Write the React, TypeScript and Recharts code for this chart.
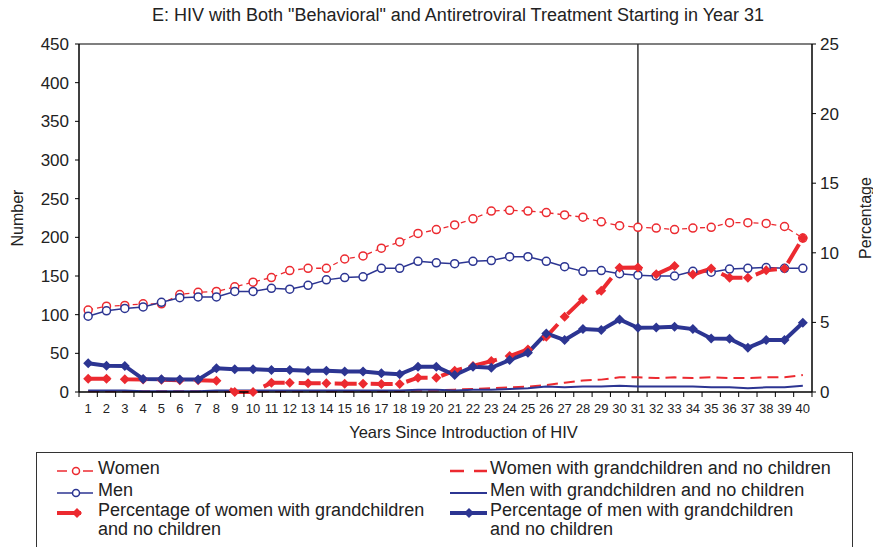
import React from 'react';
import { LineChart, Line, XAxis, YAxis, ReferenceLine } from 'recharts';

const years = [
  1, 2, 3, 4, 5, 6, 7, 8, 9, 10, 11, 12, 13, 14, 15, 16, 17, 18, 19, 20,
  21, 22, 23, 24, 25, 26, 27, 28, 29, 30, 31, 32, 33, 34, 35, 36, 37, 38, 39, 40
];
const women = [
  106, 111, 112, 114, 114, 126, 129, 130, 136, 142, 148, 157, 160, 160, 172, 176, 186, 194, 205, 210,
  216, 224, 234, 235, 234, 232, 229, 226, 220, 215, 213, 212, 210, 212, 213, 219, 219, 218, 214, 199
];
const men = [
  98, 105, 108, 110, 116, 122, 123, 123, 130, 130, 134, 133, 138, 145, 148, 149, 160, 160, 169, 167,
  166, 169, 170, 175, 175, 169, 162, 156, 157, 153, 151, 150, 150, 156, 155, 159, 160, 161, 160, 160
];
const womenGc = [
  1, 1, 1, 1, 1, 1, 1, 1, 0, 0, 1, 1, 1, 1, 1, 1, 1, 1, 2, 2,
  3, 4, 5, 6, 7, 9, 12, 15, 16, 19, 19, 18, 19, 18, 19, 18, 18, 19, 19, 22
];
const menGc = [
  2, 2, 2, 1, 1, 1, 1, 2, 2, 2, 2, 2, 2, 2, 2, 2, 2, 2, 3, 3,
  2, 3, 3, 4, 5, 7, 6, 7, 7, 8, 7, 7, 7, 7, 6, 6, 5, 6, 6, 8
];
const womenPct = [
  0.96, 0.96, 0.91, 0.9, 0.88, 0.85, 0.85, 0.81, 0, 0, 0.67, 0.67, 0.62, 0.62, 0.6, 0.6, 0.57, 0.57, 1.03, 1.03,
  1.53, 1.87, 2.22, 2.58, 3.06, 3.97, 5.4, 6.67, 7.27, 8.92, 8.94, 8.46, 9.06, 8.44, 8.87, 8.2, 8.2, 8.75, 8.87, 11.07
];
const menPct = [
  2.06, 1.89, 1.87, 0.93, 0.91, 0.89, 0.89, 1.7, 1.63, 1.63, 1.58, 1.58, 1.53, 1.53, 1.48, 1.47, 1.34, 1.27, 1.82, 1.82,
  1.22, 1.82, 1.74, 2.3, 2.82, 4.21, 3.73, 4.52, 4.45, 5.21, 4.61, 4.63, 4.68, 4.52, 3.85, 3.83, 3.18, 3.73, 3.73, 4.97
];
const leftTicks = [0, 50, 100, 150, 200, 250, 300, 350, 400, 450];
const rightTicks = [0, 5, 10, 15, 20, 25];
const treatmentYear = 31;

const data = years.map((year, i) => ({
  year,
  women: women[i],
  men: men[i],
  womenGc: womenGc[i],
  menGc: menGc[i],
  womenPct: womenPct[i],
  menPct: menPct[i]
}));

const RED = '#ec2a30';
const BLUE = '#2c3592';
const TEXT = '#222';
const FONT = '"Liberation Sans", Arial, sans-serif';
const HALF_BAND = 9.16;

const diamond = (color: string, size: number) => (props: any) => {
  const { cx, cy, index } = props;
  if (cx == null || cy == null) return <g key={index} />;
  return (
    <path
      key={index}
      d={`M${cx},${cy - size}L${cx + size},${cy}L${cx},${cy + size}L${cx - size},${cy}Z`}
      fill={color}
    />
  );
};

const XTick = (props: any) => {
  const { x, y, payload } = props;
  return (
    <g>
      <line x1={x - HALF_BAND} x2={x - HALF_BAND} y1={y} y2={y + 5} stroke="#000" />
      {payload.value === 40 && (
        <line x1={x + HALF_BAND} x2={x + HALF_BAND} y1={y} y2={y + 5} stroke="#000" />
      )}
      <text x={x} y={y + 21} textAnchor="middle" fontSize={13} fill={TEXT} fontFamily={FONT}>
        {payload.value}
      </text>
    </g>
  );
};

const Sample = ({ kind }: { kind: string }) => {
  const w = 37;
  if (kind === 'women')
    return (
      <svg width={w} height={12}>
        <line x1={0} x2={10} y1={6} y2={6} stroke={RED} strokeWidth={1.5} />
        <circle cx={19} cy={6} r={3.5} fill="#fff" stroke={RED} strokeWidth={1.5} />
        <line x1={26} x2={36} y1={6} y2={6} stroke={RED} strokeWidth={1.5} />
      </svg>
    );
  if (kind === 'men')
    return (
      <svg width={w} height={12}>
        <line x1={0} x2={36} y1={6} y2={6} stroke={BLUE} strokeWidth={1.5} />
        <circle cx={19} cy={6} r={3.5} fill="#fff" stroke={BLUE} strokeWidth={1.5} />
      </svg>
    );
  if (kind === 'womenPct')
    return (
      <svg width={w} height={12}>
        <line x1={0} x2={24} y1={6} y2={6} stroke={RED} strokeWidth={4} />
        <path d="M20,1L25,6L20,11L15,6Z" fill={RED} />
      </svg>
    );
  if (kind === 'womenGc')
    return (
      <svg width={w} height={12}>
        <line x1={0} x2={37} y1={6} y2={6} stroke={RED} strokeWidth={2.5} strokeDasharray="14 10" />
      </svg>
    );
  if (kind === 'menGc')
    return (
      <svg width={w} height={12}>
        <line x1={0} x2={37} y1={6} y2={6} stroke={BLUE} strokeWidth={2} />
      </svg>
    );
  return (
    <svg width={w} height={12}>
      <line x1={0} x2={37} y1={6} y2={6} stroke={BLUE} strokeWidth={4} />
      <path d="M19,1L24,6L19,11L14,6Z" fill={BLUE} />
    </svg>
  );
};

const legendItems = [
  { kind: 'women', label: 'Women', col: 0, cy: 469 },
  { kind: 'men', label: 'Men', col: 0, cy: 491 },
  { kind: 'womenPct', label: 'Percentage of women with grandchildren\nand no children', col: 0, cy: 511 },
  { kind: 'womenGc', label: 'Women with grandchildren and no children', col: 1, cy: 469 },
  { kind: 'menGc', label: 'Men with grandchildren and no children', col: 1, cy: 491 },
  { kind: 'menPct', label: 'Percentage of men with grandchildren\nand no children', col: 1, cy: 511 }
];

const ChartLegend = () => (
  <>
    <div
      style={{
        position: 'absolute',
        left: 36,
        top: 452,
        width: 815,
        height: 120,
        border: '1.5px solid #333',
        borderBottom: 'none'
      }}
    />
    {legendItems.map((item) => {
      const sx = item.col === 0 ? 57 : 450;
      const tx = item.col === 0 ? 98 : 490;
      return (
        <React.Fragment key={item.kind}>
          <div style={{ position: 'absolute', left: sx, top: item.cy - 6, height: 12 }}>
            <Sample kind={item.kind} />
          </div>
          <div
            style={{
              position: 'absolute',
              left: tx,
              top: item.cy - 10.5,
              fontSize: 18,
              lineHeight: '19.5px',
              color: TEXT,
              whiteSpace: 'pre'
            }}
          >
            {item.label}
          </div>
        </React.Fragment>
      );
    })}
  </>
);

const App: React.FC = () => (
  <div
    style={{
      position: 'absolute',
      left: 0,
      top: 0,
      width: 873,
      height: 547,
      overflow: 'hidden',
      background: '#fff',
      fontFamily: FONT
    }}
  >
    <div
      style={{
        position: 'absolute',
        left: 58,
        top: 5,
        width: 800,
        textAlign: 'center',
        fontSize: 18,
        color: TEXT
      }}
    >
      E: HIV with Both "Behavioral" and Antiretroviral Treatment Starting in Year 31
    </div>
    <LineChart
      width={873}
      height={547}
      data={data}
      margin={{ top: 44, right: 0, left: 19, bottom: 109 }}
      style={{ fontFamily: FONT }}
    >
      <XAxis
        dataKey="year"
        type="number"
        domain={[0.5, 40.5]}
        ticks={years}
        interval={0}
        height={46}
        tickSize={0}
        tickMargin={0}
        tick={<XTick />}
        axisLine={{ stroke: '#000', strokeWidth: 1.5 }}
        label={{
          value: 'Years Since Introduction of HIV',
          position: 'insideBottom',
          offset: 0,
          dx: 18,
          fontSize: 16.5,
          fill: TEXT
        }}
      />
      <YAxis
        yAxisId="left"
        domain={[0, 450]}
        ticks={leftTicks}
        interval={0}
        width={60}
        tickSize={4}
        tickMargin={6}
        tick={{ fontSize: 17, fill: TEXT }}
        axisLine={{ stroke: '#000', strokeWidth: 1.5 }}
        tickLine={{ stroke: '#000' }}
        label={{
          value: 'Number',
          angle: -90,
          position: 'insideLeft',
          offset: -2,
          fontSize: 16,
          fill: TEXT,
          style: { textAnchor: 'middle' }
        }}
      />
      <YAxis
        yAxisId="right"
        orientation="right"
        domain={[0, 25]}
        ticks={rightTicks}
        interval={0}
        width={61}
        tickSize={4}
        tickMargin={4}
        tick={{ fontSize: 17, fill: TEXT }}
        axisLine={{ stroke: '#000', strokeWidth: 1.5 }}
        tickLine={{ stroke: '#000' }}
        label={{
          value: 'Percentage',
          angle: -90,
          position: 'insideRight',
          offset: 8,
          fontSize: 16,
          fill: TEXT,
          style: { textAnchor: 'middle' }
        }}
      />
      <ReferenceLine yAxisId="left" y={450} stroke="#555" strokeWidth={1.5} />
      <ReferenceLine yAxisId="left" x={treatmentYear} stroke="#333" strokeWidth={1.5} />

      <Line
        yAxisId="left"
        dataKey="womenGc"
        stroke={RED}
        strokeWidth={2}
        strokeDasharray="11 6"
        dot={false}
        isAnimationActive={false}
      />
      <Line
        yAxisId="left"
        dataKey="menGc"
        stroke={BLUE}
        strokeWidth={2}
        dot={false}
        isAnimationActive={false}
      />
      <Line
        yAxisId="left"
        dataKey="women"
        stroke={RED}
        strokeWidth={1.3}
        strokeDasharray="5 4"
        dot={{ r: 4, fill: '#fff', stroke: RED, strokeWidth: 1.5, strokeDasharray: 'none' }}
        isAnimationActive={false}
      />
      <Line
        yAxisId="left"
        dataKey="men"
        stroke={BLUE}
        strokeWidth={1.5}
        dot={{ r: 4, fill: '#fff', stroke: BLUE, strokeWidth: 1.5 }}
        isAnimationActive={false}
      />
      <Line
        yAxisId="right"
        dataKey="womenPct"
        stroke={RED}
        strokeWidth={4}
        strokeDasharray="22 14"
        dot={diamond(RED, 5)}
        isAnimationActive={false}
      />
      <Line
        yAxisId="right"
        dataKey="menPct"
        stroke={BLUE}
        strokeWidth={4}
        dot={diamond(BLUE, 5)}
        isAnimationActive={false}
      />
    </LineChart>
    <ChartLegend />
  </div>
);

export default App;
